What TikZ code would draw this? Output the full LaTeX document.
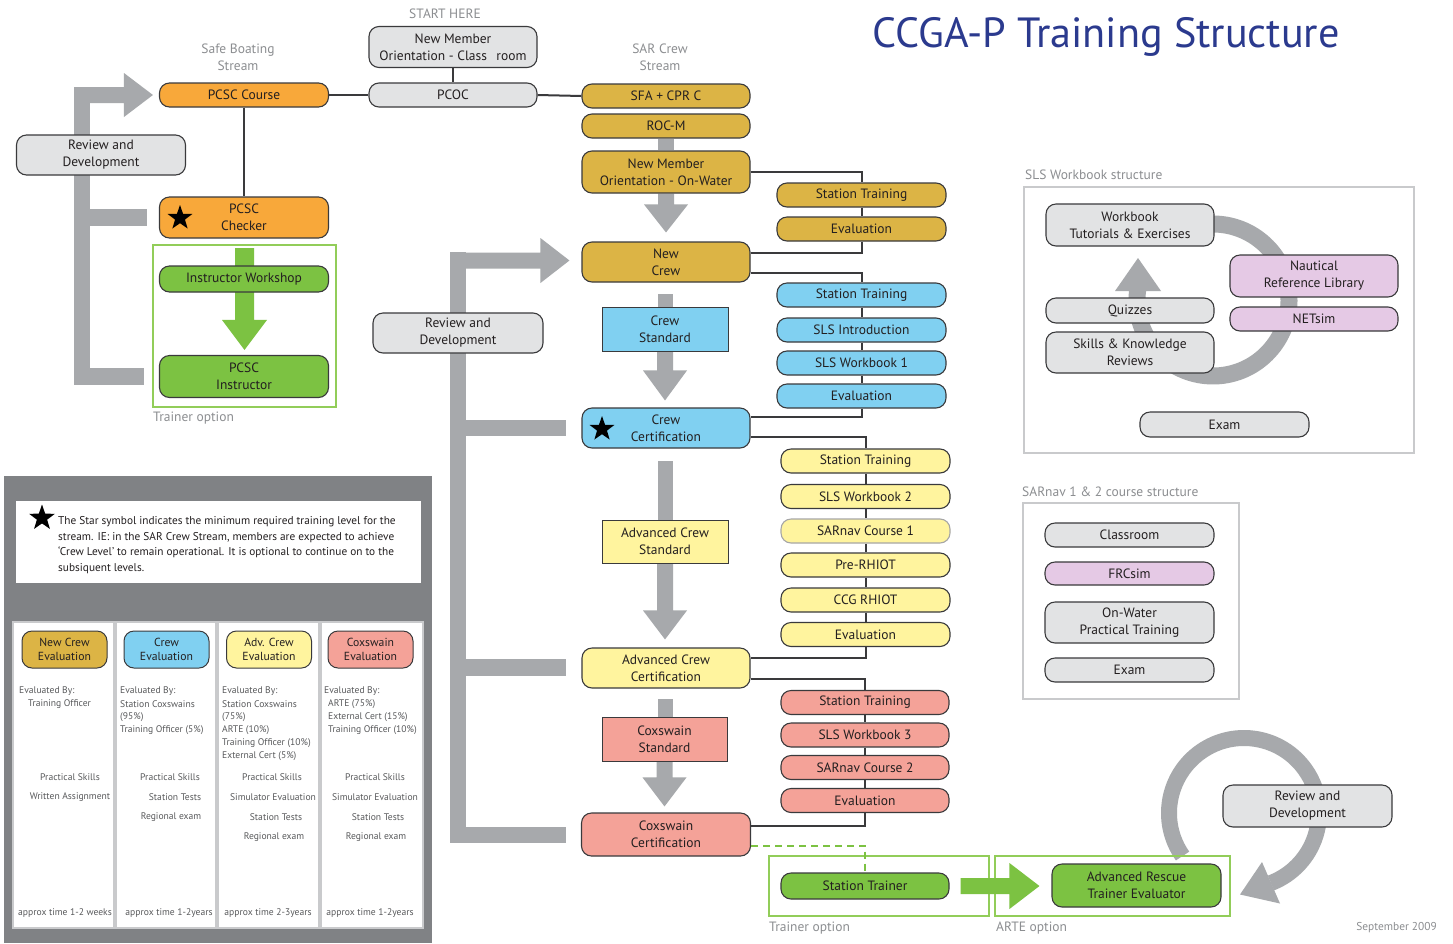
\documentclass[tikz,border=0pt]{standalone}
\usepackage{fontspec}
\setmainfont{PT Sans}
\usetikzlibrary{calc,shapes.geometric,backgrounds}

\definecolor{inkc}{HTML}{231F20}
\definecolor{edgec}{HTML}{3A3A3C}
\definecolor{lblgray}{HTML}{8C8E91}
\definecolor{boxgray}{HTML}{E2E3E4}
\definecolor{orangec}{HTML}{F8A83A}
\definecolor{goldc}{HTML}{DCB445}
\definecolor{bluec}{HTML}{80D0F1}
\definecolor{yellowc}{HTML}{FFF49E}
\definecolor{salmonc}{HTML}{F4A298}
\definecolor{greenc}{HTML}{7CC242}
\definecolor{framegreen}{HTML}{92CD59}
\definecolor{pinkc}{HTML}{E5C9E5}
\definecolor{bargray}{HTML}{A7A9AC}
\definecolor{panelgray}{HTML}{808285}
\definecolor{framegray}{HTML}{C9CACC}
\definecolor{titleblue}{HTML}{2B3A8E}
\definecolor{legtext}{HTML}{58595B}

\newcommand\fsz[2]{\fontsize{#1}{#2}\selectfont}

% fat arrow pointing down: colour, start, tip, half shaft, half head, head length
\newcommand\fatdown[6]{%
  \fill[#1] ($(#2)+(-#4,0)$) -- ($(#2|-#3)+(-#4,-#6)$) -- ($(#2|-#3)+(-#5,-#6)$)
    -- (#2|-#3) -- ($(#2|-#3)+(#5,-#6)$) -- ($(#2|-#3)+(#4,-#6)$)
    -- ($(#2)+(#4,0)$) -- cycle;}
% fat arrow pointing right: colour, start, tip, half shaft, half head, head length
\newcommand\fatright[6]{%
  \fill[#1] ($(#2)+(0,-#4)$) -- ($(#2-|#3)+(-#6,-#4)$) -- ($(#2-|#3)+(-#6,-#5)$)
    -- (#2-|#3) -- ($(#2-|#3)+(-#6,#5)$) -- ($(#2-|#3)+(-#6,#4)$)
    -- ($(#2)+(0,#4)$) -- cycle;}

\begin{document}
\begin{tikzpicture}[x=1pt,y=-1pt,
  box/.style={draw=edgec, line width=1.1pt, rounded corners=10pt, align=center,
    inner sep=0pt, text=inkc, font=\fsz{13.5}{17}, minimum width=168pt},
  short/.style={minimum height=24pt},
  tall/.style={minimum height=41pt},
  graybox/.style={box, fill=boxgray},
  orangebox/.style={box, fill=orangec},
  goldbox/.style={box, fill=goldc},
  bluebox/.style={box, fill=bluec},
  yellowbox/.style={box, fill=yellowc},
  salmonbox/.style={box, fill=salmonc},
  greenbox/.style={box, fill=greenc},
  pinkbox/.style={box, fill=pinkc},
  stdbox/.style={draw=edgec, line width=0.9pt, align=center, inner sep=0pt,
    text=inkc, font=\fsz{13.5}{17}, minimum width=126pt, minimum height=44pt},
  lbl/.style={text=lblgray, font=\fsz{13.5}{17}, align=center, inner sep=0pt},
  link/.style={draw=edgec, line width=2pt},
  gframe/.style={draw=framegreen, line width=2pt, inner sep=0pt},
  sframe/.style={draw=framegray, line width=2pt, inner sep=0pt},
  starmark/.style={star, star points=5, star point ratio=2.5, fill=black,
    draw=none, inner sep=0pt, minimum size=#1},
  starmark/.default=26pt,
  coltext/.style={text=legtext, font=\fsz{9.6}{10}, inner sep=0pt},
  hdr/.style={box, minimum width=85pt, minimum height=37pt, font=\fsz{11.7}{14}, line width=1pt}
]
\useasboundingbox (0,0) rectangle (1453,943);

% ---------- title ----------
\node[anchor=base west, text=titleblue, font=\fsz{42.2}{46}, inner sep=0pt] (title) at (872,47) {CCGA-P Training Structure};

% ---------- entry ----------
\node[lbl] (starthere) at (445,14) {START HERE};
\node[graybox, tall] (nmoc) at (453,47) {New Member\\Orientation - Class\hspace{0.7em}room};
\node[graybox, short] (pcoc) at (453,95) {PCOC};
\node[lbl] (sbs) at (238,57) {Safe Boating\\Stream};
\node[lbl] (sarstream) at (660,57) {SAR Crew\\Stream};

% ---------- safe boating stream ----------
\node[orangebox, short, minimum width=169pt] (pcsc) at (244,95) {PCSC Course};
\node[graybox, minimum width=169pt, minimum height=40pt] (revL) at (101,155) {Review and\\Development};
\node[orangebox, tall, minimum width=169pt] (checker) at (244,217.5) {PCSC\\Checker};
\node[starmark] (star1) at (180,218) {};
\node[gframe, minimum width=183pt, minimum height=162pt] (trainL) at (244.5,326) {};
\node[greenbox, minimum width=169pt, minimum height=26pt] (instws) at (244,279) {Instructor Workshop};
\node[greenbox, minimum width=169pt, minimum height=42pt] (pcscinst) at (244,376.5) {PCSC\\Instructor};
\node[lbl, anchor=west] (trainoptL) at (153,418) {Trainer option};

% ---------- SAR crew stream ----------
\node[goldbox, short] (sfa) at (666,96) {SFA + CPR C};
\node[goldbox, short] (rocm) at (666,126) {ROC-M};
\node[goldbox, tall, minimum height=42pt] (nmow) at (666,172) {New Member\\Orientation - On-Water};
\node[goldbox, short, minimum width=169pt] (gst) at (861.5,195) {Station Training};
\node[goldbox, short, minimum width=169pt] (gev) at (861.5,229) {Evaluation};
\node[goldbox, minimum height=40pt] (newcrew) at (666,262) {New\\Crew};

\node[bluebox, short, minimum width=169pt] (bst) at (861.5,295) {Station Training};
\node[bluebox, short, minimum width=169pt] (bslsi) at (861.5,330) {SLS Introduction};
\node[bluebox, short, minimum width=169pt] (bslsw) at (861.5,363) {SLS Workbook 1};
\node[bluebox, short, minimum width=169pt] (bev) at (861.5,396) {Evaluation};
\node[stdbox, fill=bluec] (crewstd) at (665,329) {Crew\\Standard};
\node[bluebox, minimum height=40pt] (crewcert) at (666,428) {Crew\\Certification};
\node[starmark] (star2) at (602,429) {};

\node[yellowbox, short, minimum width=169pt] (yst) at (865.5,461) {Station Training};
\node[yellowbox, short, minimum width=169pt] (yslsw) at (865.5,496.5) {SLS Workbook 2};
\node[yellowbox, short, minimum width=169pt, draw=black!35] (ysar) at (865.5,531) {SARnav Course 1};
\node[yellowbox, short, minimum width=169pt] (ypre) at (865.5,565) {Pre-RHIOT};
\node[yellowbox, short, minimum width=169pt] (yccg) at (865.5,600) {CCG RHIOT};
\node[yellowbox, short, minimum width=169pt] (yev) at (865.5,634.5) {Evaluation};
\node[stdbox, fill=yellowc, minimum height=43pt] (advstd) at (665,541.5) {Advanced Crew\\Standard};
\node[yellowbox, minimum height=40pt] (advcert) at (666,668) {Advanced Crew\\Certification};

\node[salmonbox, short] (rst) at (865,702.5) {Station Training};
\node[salmonbox, short] (rslsw) at (865,735) {SLS Workbook 3};
\node[salmonbox, short] (rsar) at (865,767.5) {SARnav Course 2};
\node[salmonbox, short] (rev) at (865,800.5) {Evaluation};
\node[stdbox, fill=salmonc, minimum width=125pt] (coxstd) at (664.5,739) {Coxswain\\Standard};
\node[salmonbox, minimum height=43pt, minimum width=169pt] (coxcert) at (666,834.5) {Coxswain\\Certification};

\node[graybox, minimum width=170pt, minimum height=40pt] (revM) at (458,333) {Review and\\Development};

% ---------- trainer / ARTE options ----------
\node[gframe, minimum width=220pt, minimum height=60pt] (trainB) at (879,886) {};
\node[greenbox, minimum height=26pt] (sttrainer) at (865,886) {Station Trainer};
\node[gframe, minimum width=235pt, minimum height=60pt] (arteB) at (1112.5,886) {};
\node[greenbox, minimum width=169pt, minimum height=43pt] (arte) at (1136.5,885.5) {Advanced Rescue\\Trainer Evaluator};
\node[lbl, anchor=west] (trainoptB) at (769,928) {Trainer option};
\node[lbl, anchor=west] (arteopt) at (996,928) {ARTE option};
\node[graybox, minimum width=169pt, minimum height=42pt] (revR) at (1307.5,806) {Review and\\Development};
\node[lbl, anchor=east, font=\fsz{11.4}{13}] (date) at (1437,928) {September 2009};

% ---------- SLS workbook structure ----------
\node[lbl, anchor=west] (slstitle) at (1025,175) {SLS Workbook structure};
\node[sframe, minimum width=390pt, minimum height=266pt] (slsframe) at (1219,320) {};
\node[graybox, tall, minimum height=42pt] (wb) at (1130,225) {Workbook\\Tutorials \& Exercises};
\node[pinkbox, tall, minimum height=42pt] (naut) at (1314,276) {Nautical\\Reference Library};
\node[pinkbox, short] (netsim) at (1314,319) {NETsim};
\node[graybox, short, minimum height=25pt] (quiz) at (1130,310.5) {Quizzes};
\node[graybox, tall] (skills) at (1130,352.5) {Skills \& Knowledge\\Reviews};
\node[graybox, short, minimum width=169pt, minimum height=25pt] (exam1) at (1224.5,424.5) {Exam};

% ---------- SARnav structure ----------
\node[lbl, anchor=west] (sntitle) at (1022,492) {SARnav 1 \& 2 course structure};
\node[sframe, minimum width=216pt, minimum height=196pt] (snframe) at (1131,601) {};
\node[graybox, short, minimum width=169pt] (classroom) at (1129.5,535) {Classroom};
\node[pinkbox, short, minimum width=169pt, minimum height=23pt] (frcsim) at (1129.5,573.5) {FRCsim};
\node[graybox, tall, minimum width=169pt] (onwater) at (1129.5,622.5) {On-Water\\Practical Training};
\node[graybox, short, minimum width=169pt] (exam2) at (1129.5,670) {Exam};

% ---------- connectors ----------
\draw[link] (nmoc.south) -- (pcoc.north);
\draw[link] (pcsc.east) -- (pcoc.west);
\draw[link] (pcoc.east) -- (sfa.west);
\draw[link] (pcsc.south) -- (checker.north);

\draw[link] (nmow.east) -| (gst.north);
\draw[link] (gst.south) -- (gev.north);
\draw[link] (gev.south) |- ([yshift=9pt]newcrew.east);

\draw[link] ([yshift=-11pt]newcrew.east) -| (bst.north);
\draw[link] (bst.south) -- (bslsi.north);
\draw[link] (bslsi.south) -- (bslsw.north);
\draw[link] (bslsw.south) -- (bev.north);
\draw[link] (bev.south) |- ([yshift=11pt]crewcert.east);

\draw[link] ([yshift=-9pt]crewcert.east) -| (yst.north);
\draw[link] (yst.south) -- (yslsw.north);
\draw[link] (yslsw.south) -- (ysar.north);
\draw[link] (ysar.south) -- (ypre.north);
\draw[link] (ypre.south) -- (yccg.north);
\draw[link] (yccg.south) -- (yev.north);
\draw[link] (yev.south) |- ([yshift=10pt]advcert.east);

\draw[link] ([yshift=-11pt]advcert.east) -| (rst.north);
\draw[link] (rst.south) -- (rslsw.north);
\draw[link] (rslsw.south) -- (rsar.north);
\draw[link] (rsar.south) -- (rev.north);
\draw[link] (rev.south) |- ([yshift=9pt]coxcert.east);

\draw[greenc, line width=2pt, dash pattern=on 7pt off 5pt]
  ([yshift=-11pt]coxcert.east) -| (sttrainer.north);

% green progression arrow
\coordinate (gaS) at ([xshift=11pt]sttrainer.east);
\coordinate (gaT) at ([xshift=-12pt]arte.west);
\fatright{greenc}{gaS}{gaT}{8}{23}{30}

% ---------- legend panel ----------
\fill[panelgray] (4,476) rectangle (432,943);
\fill[white] (16,501) rectangle (421,583);
\node[starmark=27pt] (starN) at (42,518) {};
\node[anchor=north west, align=left, text=inkc, font=\fsz{11.3}{15.8}, inner sep=0pt] (note) at (58,516)
  {The Star symbol indicates the minimum required training level for the\\
   stream. IE: in the SAR Crew Stream, members are expected to achieve\\
   `Crew Level' to remain operational. It is optional to continue on to the\\
   subsiquent levels.};
\fill[framegray] (12,621) rectangle (424,929);
\fill[white] (14,623) rectangle (113,927);
\fill[white] (117,623) rectangle (215,927);
\fill[white] (219,623) rectangle (318,927);
\fill[white] (322,623) rectangle (422,927);

\node[hdr, fill=goldc] (h1) at (64.5,649.5) {New Crew\\Evaluation};
\node[hdr, fill=bluec] (h2) at (166.5,649.5) {Crew\\Evaluation};
\node[hdr, fill=yellowc] (h3) at (269,649.5) {Adv. Crew\\Evaluation};
\node[hdr, fill=salmonc] (h4) at (370.5,649.5) {Coxswain\\Evaluation};

% column 1
\node[coltext, anchor=west] (c1a) at (19,691) {Evaluated By:};
\node[coltext, anchor=west] (c1b) at (28,704) {Training Officer};
\node[coltext] (c1c) at (70,777) {Practical Skills};
\node[coltext] (c1d) at (70,797) {Written Assignment};
\node[coltext] (c1e) at (65,913) {approx time 1-2 weeks};
% column 2
\node[coltext, anchor=west] (c2a) at (120,691) {Evaluated By:};
\node[coltext, anchor=west] (c2b) at (120,704) {Station Coxswains};
\node[coltext, anchor=west] (c2c) at (120,717) {(95\%)};
\node[coltext, anchor=west] (c2d) at (120,730) {Training Officer (5\%)};
\node[coltext] (c2e) at (170,777) {Practical Skills};
\node[coltext] (c2f) at (175,797) {Station Tests};
\node[coltext] (c2g) at (171,817) {Regional exam};
\node[coltext] (c2h) at (169,913) {approx time 1-2years};
% column 3
\node[coltext, anchor=west] (c3a) at (222,691) {Evaluated By:};
\node[coltext, anchor=west] (c3b) at (222,704) {Station Coxswains};
\node[coltext, anchor=west] (c3c) at (222,717) {(75\%)};
\node[coltext, anchor=west] (c3d) at (222,730) {ARTE (10\%)};
\node[coltext, anchor=west] (c3e) at (222,743) {Training Officer (10\%)};
\node[coltext, anchor=west] (c3f) at (222,756) {External Cert (5\%)};
\node[coltext] (c3g) at (272,777) {Practical Skills};
\node[coltext] (c3h) at (273,797) {Simulator Evaluation};
\node[coltext] (c3i) at (276,817) {Station Tests};
\node[coltext] (c3j) at (274,837) {Regional exam};
\node[coltext] (c3k) at (268,913) {approx time 2-3years};
% column 4
\node[coltext, anchor=west] (c4a) at (324,691) {Evaluated By:};
\node[coltext, anchor=west] (c4b) at (328,704) {ARTE (75\%)};
\node[coltext, anchor=west] (c4c) at (328,717) {External Cert (15\%)};
\node[coltext, anchor=west] (c4d) at (328,730) {Training Officer (10\%)};
\node[coltext] (c4e) at (375,777) {Practical Skills};
\node[coltext] (c4f) at (375,797) {Simulator Evaluation};
\node[coltext] (c4g) at (378,817) {Station Tests};
\node[coltext] (c4h) at (376,837) {Regional exam};
\node[coltext] (c4i) at (370,913) {approx time 1-2years};

% ---------- background: page, grey flow arrows, brackets, loops ----------
\begin{scope}[on background layer]
  \fill[white] (0,0) rectangle (1453,943);

  % green arrow inside the PCSC trainer option
  \coordinate (gdS) at ([yshift=-4pt]trainL.north);
  \coordinate (gdT) at ([yshift=5pt]pcscinst.north);
  \fatdown{greenc}{gdS}{gdT}{9.5}{22.5}{30}

  % SAR crew progression
  \fill[bargray] ($(rocm.south)+(-8,0)$) rectangle ($(nmow.north)+(8,0)$);
  \coordinate (tipA) at ([yshift=9pt]newcrew.north);
  \fatdown{bargray}{nmow.south}{tipA}{8}{22}{28}
  \fill[bargray] ($(newcrew.south)+(-8,11)$) rectangle ($(crewstd.north)+(8,0)$);
  \coordinate (tipB) at ([yshift=7pt]crewcert.north);
  \fatdown{bargray}{crewstd.south}{tipB}{8}{22}{30}
  \fill[bargray] ($(crewcert.south)+(-8,12)$) rectangle ($(advstd.north)+(8,0)$);
  \coordinate (tipC) at ([yshift=8pt]advcert.north);
  \fatdown{bargray}{advstd.south}{tipC}{8}{22}{29}
  \fill[bargray] ($(advcert.south)+(-8,10)$) rectangle ($(coxstd.north)+(8,0)$);
  \coordinate (tipD) at ([yshift=6pt]coxcert.north);
  \fatdown{bargray}{coxstd.south}{tipD}{8}{22}{29}

  % review and development bracket, safe boating stream
  \fill[bargray] (74,87) rectangle (90,385);
  \coordinate (lbtop) at (74,95);
  \coordinate (tipL) at ([xshift=-6pt]pcsc.west);
  \fatright{bargray}{lbtop}{tipL}{8}{22}{29}
  \fill[bargray] (74,209) rectangle ($(checker.west)+(-12,8)$);
  \fill[bargray] (74,368) rectangle ($(pcscinst.west)+(-15,8.5)$);

  % review and development bracket, SAR crew stream
  \fill[bargray] (450,252) rectangle (466,843);
  \coordinate (mbtop) at (450,260.5);
  \coordinate (tipM) at ([xshift=-12pt]newcrew.west);
  \fatright{bargray}{mbtop}{tipM}{8}{22.5}{29}
  \fill[bargray] (450,420) rectangle ($(crewcert.west)+(-15,8)$);
  \fill[bargray] (450,659) rectangle ($(advcert.west)+(-15,8)$);
  \fill[bargray] (450,827) rectangle ($(coxcert.west)+(-15,8)$);

  % SLS workbook loop
  \draw[bargray, line width=17pt] (1213,300) ++(-95:76) arc[start angle=-95, end angle=187.5, radius=76];
  \fill[bargray] (1115,291) -- (1138,258) -- (1161,291) -- cycle;

  % review and development loop
  \draw[bargray, line width=16pt] (1244,813) ++(145:75) arc[start angle=145, end angle=429, radius=75];
  \fill[bargray] (1280,903.5) -- (1240,894.5) -- (1262,862) -- cycle;
\end{scope}
\end{tikzpicture}
\end{document}
